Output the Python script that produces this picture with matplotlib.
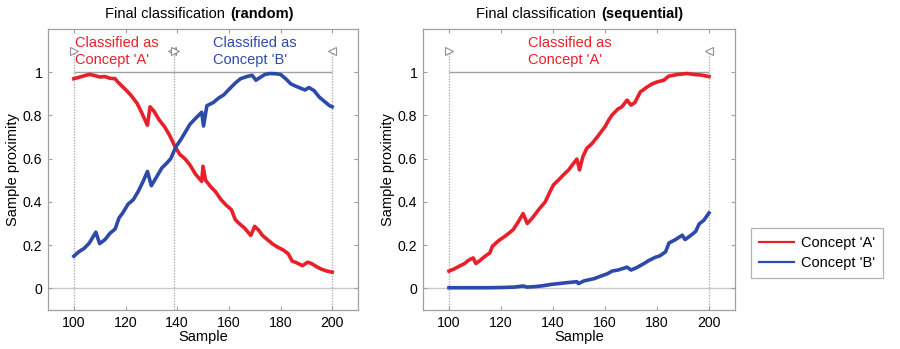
import matplotlib
matplotlib.use("Agg")
import matplotlib.pyplot as plt

plt.rcParams['font.family'] = ['Liberation Sans', 'DejaVu Sans']

# ---- data ----
rand_a_x = [100, 103, 106, 108, 110, 112, 114, 116, 117, 120, 122, 124.5, 126, 127.5, 128.5, 129.5, 131, 133,
            135, 137, 139, 141, 143, 145, 147, 149.5, 150, 151, 153, 155, 157, 159, 161, 162.5, 164, 166, 168.5,
            170, 171.5, 173, 175, 177, 179, 181, 183, 184.5, 186, 188.5, 190.5, 192, 194, 196, 198, 200]
rand_a_y = [0.97, 0.98, 0.99, 0.985, 0.978, 0.98, 0.972, 0.97, 0.955, 0.92, 0.895, 0.856, 0.82, 0.78, 0.755, 0.84,
            0.82, 0.78, 0.75, 0.71, 0.66, 0.62, 0.60, 0.57, 0.53, 0.495, 0.565, 0.50, 0.47, 0.445, 0.41, 0.385,
            0.364, 0.318, 0.30, 0.28, 0.245, 0.287, 0.27, 0.245, 0.225, 0.205, 0.19, 0.178, 0.16, 0.126, 0.12,
            0.105, 0.121, 0.115, 0.10, 0.088, 0.08, 0.075]

rand_b_x = [100, 102, 104, 106, 108.5, 110, 112, 114, 116, 117.5, 119, 121, 123, 125, 127, 128.5, 130, 132, 134,
            136, 137.5, 139.5, 141.5, 143, 145, 147, 149.5, 150.2, 151.5, 154, 156, 158, 160, 162.5, 164.5, 167,
            169, 170.5, 172, 174, 176, 178, 180, 182, 184, 186, 188, 189.5, 191, 193, 195, 197, 199, 200]
rand_b_y = [0.149, 0.17, 0.185, 0.21, 0.26, 0.207, 0.225, 0.255, 0.275, 0.326, 0.35, 0.39, 0.41, 0.45, 0.50,
            0.541, 0.475, 0.515, 0.556, 0.58, 0.60, 0.655, 0.69, 0.72, 0.76, 0.785, 0.815, 0.751, 0.845, 0.86,
            0.88, 0.895, 0.92, 0.95, 0.97, 0.98, 0.986, 0.963, 0.975, 0.99, 0.994, 0.993, 0.99, 0.97, 0.946,
            0.935, 0.925, 0.918, 0.929, 0.915, 0.885, 0.865, 0.845, 0.84]

seq_a_x = [100, 102, 104, 106, 107.5, 109.3, 110.3, 112, 114, 115.7, 116.7, 119, 121.5, 123, 124.7, 126.5, 128.5,
           130.1, 132, 135, 137, 138.9, 140.2, 142, 144, 146, 148, 149.2, 150.2, 151.5, 153, 155, 157, 160, 161.5,
           162.7, 165, 166.5, 168.5, 170, 171.5, 173.6, 176, 178, 180, 182.6, 184.5, 186, 188, 191.6, 194, 197, 200]
seq_a_y = [0.08, 0.09, 0.103, 0.115, 0.13, 0.141, 0.115, 0.13, 0.15, 0.164, 0.195, 0.22, 0.241, 0.255, 0.272,
           0.305, 0.346, 0.30, 0.325, 0.372, 0.40, 0.449, 0.479, 0.50, 0.525, 0.548, 0.58, 0.598, 0.548, 0.61,
           0.648, 0.67, 0.70, 0.748, 0.78, 0.802, 0.83, 0.84, 0.871, 0.848, 0.86, 0.909, 0.93, 0.945, 0.955,
           0.963, 0.982, 0.985, 0.99, 0.994, 0.99, 0.987, 0.98]

seq_b_x = [100, 105, 110, 115, 120, 125, 128.5, 130, 133, 136, 139, 142, 145, 149.2, 149.8, 152, 155.8, 158, 161,
           162.7, 165, 168.5, 170, 172, 175, 177, 179.4, 181, 183.3, 184.6, 187, 189.7, 190.8, 193, 194.9, 196.2,
           198, 200]
seq_b_y = [0.003, 0.003, 0.003, 0.003, 0.004, 0.006, 0.011, 0.006, 0.008, 0.012, 0.018, 0.022, 0.026, 0.031,
           0.022, 0.035, 0.045, 0.055, 0.068, 0.08, 0.085, 0.098, 0.085, 0.095, 0.115, 0.13, 0.144, 0.15, 0.169,
           0.21, 0.225, 0.246, 0.226, 0.245, 0.264, 0.298, 0.315, 0.349]

boundaries_rand = [100, 138.6, 200]
boundaries_seq = [100, 200]
xticks = [100, 120, 140, 160, 180, 200]
yticks = [0, 0.2, 0.4, 0.6, 0.8, 1]
ytick_labels = ['0', '0.2', '0.4', '0.6', '0.8', '1']

RED = '#e8202a'
BLUE = '#2e4aa8'
GRAY = '#a0a0a0'
FS = 10.5

fig = plt.figure(figsize=(9.0, 3.49), dpi=100)
W, H = 900, 349


def px_axes(l, t, r, b):
    return fig.add_axes([l / W, 1 - b / H, (r - l) / W, (b - t) / H])


def style(ax):
    ax.set_xlim(90, 210)
    ax.set_ylim(-0.1, 1.2)
    ax.set_xticks(xticks)
    ax.set_yticks(yticks)
    ax.set_yticklabels(ytick_labels)
    ax.tick_params(direction='in', length=3, color=GRAY, labelsize=FS - 0.3, top=True, right=True, pad=4)
    for s in ax.spines.values():
        s.set_color(GRAY)
        s.set_linewidth(0.9)
    ax.axhline(0, color='#c8c8c8', lw=1.0, zorder=1)
    ax.hlines(1, 100, 200, color=GRAY, lw=1.0, zorder=1)
    ax.set_xlabel('Sample', fontsize=FS, labelpad=0)
    ax.set_ylabel('Sample proximity', fontsize=FS, labelpad=2)


def bounds(ax, xs):
    for i, x in enumerate(xs):
        ax.vlines(x, -0.1, 1.1, color='#b0b0b0', lw=1.0, linestyles=(0, (1, 1)), zorder=1)
        if i == 0:
            ax.plot([x], [1.1], marker='>', ms=6, mfc='white', mec='#909090', mew=0.8, zorder=3, clip_on=False)
        elif i == len(xs) - 1:
            ax.plot([x], [1.1], marker='<', ms=6, mfc='white', mec='#909090', mew=0.8, zorder=3, clip_on=False)
        else:
            ax.plot([x - 0.6], [1.1], marker='<', ms=6, mfc='white', mec='#909090', mew=0.8, zorder=3)
            ax.plot([x + 0.6], [1.1], marker='>', ms=6, mfc='white', mec='#909090', mew=0.8, zorder=3)


ax1 = px_axes(48, 29, 358, 310)
style(ax1)
bounds(ax1, boundaries_rand)
l1, = ax1.plot(rand_a_x, rand_a_y, color=RED, lw=2.6, zorder=4, solid_joinstyle='round')
l2, = ax1.plot(rand_b_x, rand_b_y, color=BLUE, lw=2.6, zorder=4, solid_joinstyle='round')
ax1.text(100.3, 1.095, "Classified as\nConcept 'A'", color=RED, fontsize=FS, ha='left', va='center',
         linespacing=1.25)
ax1.text(153.9, 1.095, "Classified as\nConcept 'B'", color=BLUE, fontsize=FS, ha='left', va='center',
         linespacing=1.25)

ax2 = px_axes(423, 29, 735, 310)
style(ax2)
bounds(ax2, boundaries_seq)
ax2.plot(seq_a_x, seq_a_y, color=RED, lw=2.6, zorder=4, solid_joinstyle='round')
ax2.plot(seq_b_x, seq_b_y, color=BLUE, lw=2.6, zorder=4, solid_joinstyle='round')
ax2.text(130.4, 1.095, "Classified as\nConcept 'A'", color=RED, fontsize=FS, ha='left', va='center',
         linespacing=1.25)

# titles: mixed normal/bold
fig.text(229 / W, 1 - 14 / H, 'Final classification ', fontsize=FS, ha='right', va='center')
fig.text(230 / W, 1 - 14 / H, '(random)', fontsize=FS, fontweight='bold', ha='left', va='center')
fig.text(600 / W, 1 - 14 / H, 'Final classification ', fontsize=FS, ha='right', va='center')
fig.text(601 / W, 1 - 14 / H, '(sequential)', fontsize=FS, fontweight='bold', ha='left', va='center')

leg = fig.legend([l1, l2], ["Concept 'A'", "Concept 'B'"], loc='upper left',
                 bbox_to_anchor=(751 / W, 1 - 228 / H), fontsize=FS, frameon=True, fancybox=False,
                 borderpad=0.55, handlelength=2.4, handletextpad=0.5, labelspacing=0.4, borderaxespad=0)
leg.get_frame().set_edgecolor(GRAY)
leg.get_frame().set_linewidth(0.9)
for ln in leg.get_lines():
    ln.set_linewidth(1.6)

fig.savefig('out.png', dpi=100)
